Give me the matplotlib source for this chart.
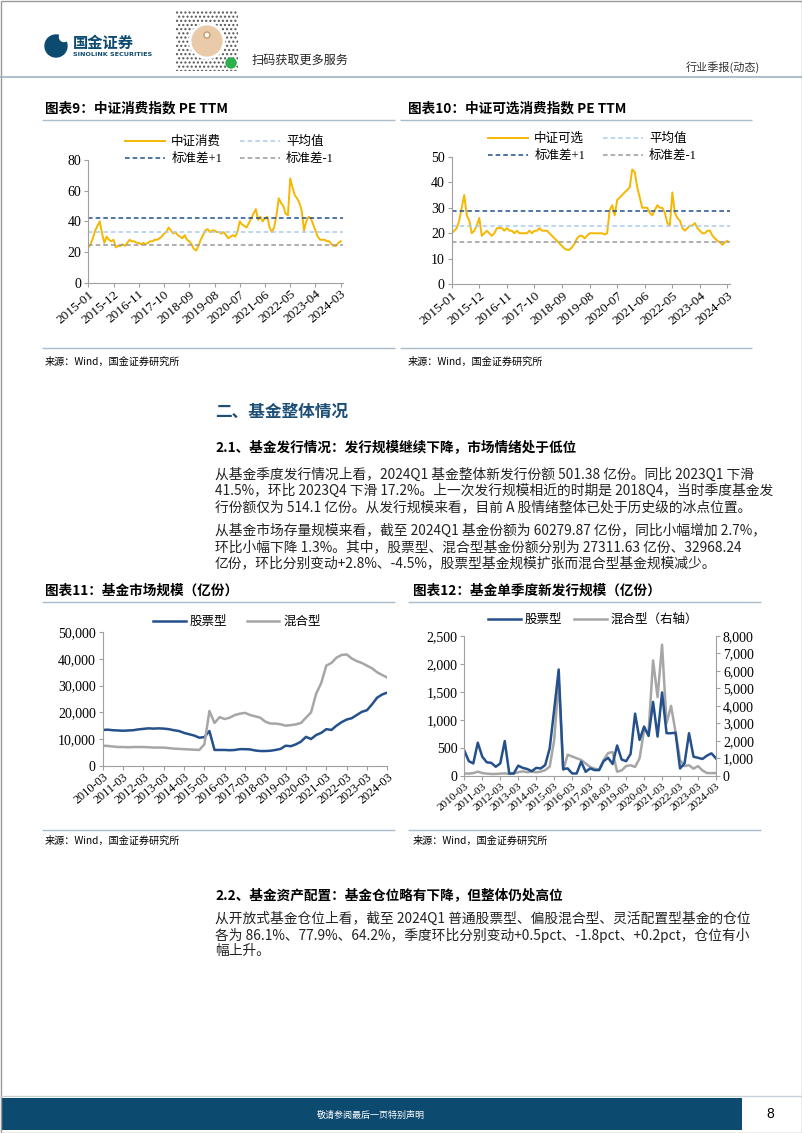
import matplotlib
matplotlib.use("Agg")
import matplotlib.pyplot as plt
import numpy as np
from matplotlib.patches import Rectangle, Circle
from matplotlib.ticker import FuncFormatter

plt.rcParams['font.family'] = ['Liberation Serif', 'Noto Sans CJK SC']
plt.rcParams['axes.unicode_minus'] = False
CJK = ['Noto Sans CJK SC', 'DejaVu Sans']

# ---- data: 中证消费 / 中证可选消费 PE TTM, monthly 2015-01 .. 2024-03
pe_labels = ['2015-01', '2015-12', '2016-11', '2017-10', '2018-09', '2019-08',
             '2020-07', '2021-06', '2022-05', '2023-04', '2024-03']
pe_consumer = [23, 25, 29, 34, 37, 40, 32, 26, 30, 28, 27, 28,
               23, 24, 24, 25, 24, 26, 28, 27, 27, 26, 26, 25,
               26, 25, 26, 27, 27, 28, 28, 29, 30, 32, 33, 36,
               34, 32, 33, 31, 30, 29, 31, 28, 27, 25, 22, 21,
               24, 28, 31, 34, 35, 33, 34, 34, 33, 33, 32, 33,
               31, 29, 30, 31, 30, 33, 40, 38, 37, 36, 39, 42,
               45, 48, 41, 43, 40, 42, 43, 36, 33, 36, 44, 55,
               52, 50, 45, 44, 68, 62, 57, 55, 52, 47, 34, 40,
               43, 42, 38, 34, 30, 28, 28, 28, 27, 27, 25, 24,
               24, 26, 27]
pe_consumer_bands = [33.3, 42.2, 24.6]   # 平均值, 标准差+1, 标准差-1
pe_discret = [20, 21, 22, 25, 30, 35, 27, 25, 20, 21, 23, 26,
              19, 20, 21, 20, 19, 20, 22, 22, 22, 21, 22, 21,
              21, 20, 21, 20, 20, 20, 20, 21, 20, 21, 21, 22,
              21, 21, 21, 20, 19, 18, 17, 16, 15, 14, 13.5, 13.5,
              14.5, 16, 18, 19, 19, 18, 19, 20, 20, 20, 20, 20,
              20, 19.5, 20, 29, 31, 27, 33, 34, 35, 36, 37, 38,
              45, 44, 38, 34, 30, 30, 30, 28, 27, 29, 31, 30,
              30, 28, 24, 23, 36, 28, 26, 25, 22, 21, 22, 23,
              23, 24, 22, 21, 20, 20, 21, 21, 19, 18, 17, 16.5,
              15.5, 16.5, 17]
pe_discret_bands = [23.0, 28.9, 16.7]

# ---- data: 基金市场规模 / 单季度新发行规模 (亿份), quarterly 2010-03 .. 2024-03
q_labels = ['%d-03' % y for y in range(2010, 2025)]
size_stock = [13400, 13500, 13300, 13200, 13100, 13200, 13300, 13600,
              13800, 14000, 13900, 14000, 13900, 13700, 13300, 13000,
              12300, 11800, 11300, 10500, 10700, 13000, 5900, 5900,
              5900, 5800, 5900, 6200, 6200, 6100, 5700, 5500,
              5500, 5600, 5900, 6300, 7500, 7300, 8000, 9000,
              10800, 10000, 11500, 12300, 13700, 13400, 15000, 16300,
              17300, 17800, 19000, 20200, 20800, 23000, 25500, 26700,
              27400]
size_mixed = [7500, 7400, 7200, 7000, 7000, 6900, 7000, 7000,
              7000, 6900, 6800, 6800, 6800, 6600, 6400, 6300,
              6200, 6100, 6000, 5900, 8000, 20500, 16000, 18200,
              17500, 18000, 19000, 19500, 19800, 19000, 18500, 18000,
              16500, 15800, 15800, 15500, 15000, 15200, 15500, 16000,
              18000, 20000, 27000, 31000, 37500, 38500, 40500, 41500,
              41700, 40200, 39200, 38500, 37500, 36500, 35000, 34000,
              33000]
new_stock = [450, 260, 220, 590, 340, 240, 230, 160, 220, 620, 40, 40,
             180, 140, 120, 80, 140, 130, 190, 490, 1180, 1900, 120, 130,
             40, 40, 250, 70, 130, 100, 100, 260, 320, 210, 540, 290,
             260, 390, 1110, 640, 880, 710, 1320, 700, 1490, 760, 760, 770,
             130, 220, 760, 340, 320, 300, 360, 400, 310]
new_mixed = [130, 120, 150, 230, 150, 120, 100, 100, 120, 130, 100, 120,
             200, 250, 200, 230, 200, 230, 320, 520, 2040, 5480, 320, 1200,
             1100, 1000, 900, 700, 500, 400, 350, 900, 1300, 1350, 230, 300,
             550, 600, 500, 1000, 2600, 2500, 6600, 4500, 7500, 3000, 4000, 2500,
             900, 550, 600, 400, 550, 300, 150, 150, 150]

W, H = 802, 1133
GOLD = '#f5b700'
BLUE = '#24508c'
GRAY = '#a6a6a6'
NAVY = '#0c4a70'
RULE = '#a9bccb'

fig = plt.figure(figsize=(W / 100, H / 100), dpi=100)
bg = fig.add_axes([0, 0, 1, 1])
bg.set_xlim(0, W)
bg.set_ylim(H, 0)
bg.axis('off')


def txt(x, y, s, size=9, **kw):
    kw.setdefault('va', 'center')
    kw.setdefault('family', CJK)
    bg.text(x, y, s, fontsize=size, **kw)


def rule(x0, x1, y, color=RULE, lw=1.0):
    bg.plot([x0, x1], [y, y], color=color, lw=lw, solid_capstyle='butt')


def px_axes(x0, y0, x1, y1):
    return fig.add_axes([x0 / W, 1 - y1 / H, (x1 - x0) / W, (y1 - y0) / H])


def style(ax, ysize=9.5, xsize=9.5, rot=40):
    for s in ['top', 'right']:
        ax.spines[s].set_visible(False)
    for s in ['left', 'bottom', 'right']:
        ax.spines[s].set_color('#a0a0a0')
        ax.spines[s].set_linewidth(0.8)
    ax.tick_params(direction='out', length=3, width=0.8, color='#a0a0a0')
    ax.tick_params(axis='y', labelsize=ysize, pad=2)
    ax.tick_params(axis='x', labelsize=xsize, pad=1)
    for lab in ax.get_xticklabels():
        lab.set_rotation(rot)
        lab.set_ha('right')
        lab.set_rotation_mode('anchor')


# ---- page header
bg.add_patch(Circle((56, 46), 11, color=NAVY, zorder=3))
bg.add_patch(Circle((64, 37), 4.5, color='white', zorder=4))
txt(73, 43, '国金证券', size=11, weight='bold', color=NAVY)
txt(73, 55, 'SINOLINK SECURITIES', size=4.6, weight='bold', color=NAVY,
    family=['DejaVu Sans'])
bg.add_patch(Rectangle((176, 11), 62, 60, facecolor='white', edgecolor='#555555',
                       hatch='....', lw=0, zorder=2))
bg.add_patch(Circle((207, 41), 17, facecolor='#e9cba9', edgecolor='white', lw=2, zorder=3))
bg.add_patch(Circle((207, 35), 3, facecolor='white', edgecolor='#c79a6a', lw=1, zorder=4))
bg.add_patch(Circle((231, 63), 5, color='#2bb24c', zorder=4))
txt(252, 60, '扫码获取更多服务', size=8.7, color='#222222')
txt(760, 67, '行业季报(动态)', size=8, color='#333333', ha='right')
rule(0, W, 76.5, color='#9fb3c2', lw=1.2)

# ---- chart 9 / 10 titles and rules
TITLE = 9.8
SRC = 7.3
txt(45, 108, '图表9：中证消费指数 PE TTM', size=TITLE, weight='bold')
txt(408, 108, '图表10：中证可选消费指数 PE TTM', size=TITLE, weight='bold')
rule(42, 395, 120)
rule(400, 752, 120)
rule(42, 395, 348)
rule(400, 752, 348)
txt(45, 362, '来源：Wind，国金证券研究所', size=SRC)
txt(408, 362, '来源：Wind，国金证券研究所', size=SRC)


def pe_chart(box, series, bands, name, ymax, step, leg_xy, colsp):
    ax = px_axes(*box)
    x = np.arange(len(series))
    h1, = ax.plot(x, series, color=GOLD, lw=1.4, label=name)
    h2 = ax.axhline(bands[0], color='#a9cdea', lw=1.1, ls=(0, (3, 2)), label='平均值')
    h3 = ax.axhline(bands[1], color='#1f4e8c', lw=1.1, ls=(0, (3, 2)), label='标准差+1')
    h4 = ax.axhline(bands[2], color='#9a9a9a', lw=1.1, ls=(0, (3, 2)), label='标准差-1')
    ax.set_xlim(0, 111)
    ax.set_ylim(0, ymax)
    ax.set_yticks(np.arange(0, ymax + 1, step))
    ax.set_xticks(np.arange(0, 111, 11))
    ax.set_xticklabels(pe_labels)
    style(ax, ysize=10, xsize=9.5)
    ax.legend([h1, h3, h2, h4], [name, '标准差+1', '平均值', '标准差-1'], ncol=2,
              loc='upper left', bbox_to_anchor=(leg_xy[0] / W, 1 - leg_xy[1] / H),
              bbox_transform=fig.transFigure, frameon=False, fontsize=9,
              handlelength=3.2, handletextpad=0.5, columnspacing=colsp,
              labelspacing=0.4, borderpad=0, borderaxespad=0)
    return ax


pe_chart((88.3, 160, 343, 282.7), pe_consumer, pe_consumer_bands, '中证消费', 80, 20,
         (125, 136), 1.4)
pe_chart((451.7, 156.7, 730, 284.3), pe_discret, pe_discret_bands, '中证可选', 50, 10,
         (488, 133), 1.4)

# ---- section text
BODY = 9.9
txt(215, 412, '二、基金整体情况', size=12, weight='bold', color='#1d4f76')
txt(215, 448, '2.1、基金发行情况：发行规模继续下降，市场情绪处于低位', size=9.8, weight='bold')
para1 = ['从基金季度发行情况上看，2024Q1 基金整体新发行份额 501.38 亿份。同比 2023Q1 下滑',
         '41.5%，环比 2023Q4 下滑 17.2%。上一次发行规模相近的时期是 2018Q4，当时季度基金发',
         '行份额仅为 514.1 亿份。从发行规模来看，目前 A 股情绪整体已处于历史级的冰点位置。']
para2 = ['从基金市场存量规模来看，截至 2024Q1 基金份额为 60279.87 亿份，同比小幅增加 2.7%，',
         '环比小幅下降 1.3%。其中，股票型、混合型基金份额分别为 27311.63 亿份、32968.24',
         '亿份，环比分别变动+2.8%、-4.5%，股票型基金规模扩张而混合型基金规模减少。']
for i, line in enumerate(para1):
    txt(215, 474.5 + 16.2 * i, line, size=BODY, color='#222222')
for i, line in enumerate(para2):
    txt(215, 531 + 16.3 * i, line, size=BODY, color='#222222')

# ---- chart 11 / 12
txt(45, 591, '图表11：基金市场规模（亿份）', size=TITLE, weight='bold')
txt(413, 591, '图表12：基金单季度新发行规模（亿份）', size=TITLE, weight='bold')
rule(42, 395, 602)
rule(408, 761, 602)
rule(42, 395, 830)
rule(408, 761, 830)
txt(45, 841, '来源：Wind，国金证券研究所', size=SRC)
txt(413, 841, '来源：Wind，国金证券研究所', size=SRC)

qx = np.arange(len(size_stock))
ax11 = px_axes(102.7, 632.3, 387.3, 765.7)
a1, = ax11.plot(qx, size_stock, color=BLUE, lw=1.8)
a2, = ax11.plot(qx, size_mixed, color=GRAY, lw=1.8)
ax11.set_xlim(0, 56)
ax11.set_ylim(0, 50000)
ax11.set_yticks(np.arange(0, 50001, 10000))
ax11.yaxis.set_major_formatter(FuncFormatter(lambda v, p: '{:,.0f}'.format(v)))
ax11.set_xticks(np.arange(0, 57, 4))
ax11.set_xticklabels(q_labels)
style(ax11, ysize=10, xsize=8.8)
ax11.legend([a1, a2], ['股票型', '混合型'], ncol=2, loc='upper left',
            bbox_to_anchor=(153 / W, 1 - 616 / H), bbox_transform=fig.transFigure,
            frameon=False, fontsize=9, handlelength=2.6, handletextpad=0.3,
            columnspacing=1.6, borderpad=0, borderaxespad=0)

ax12 = px_axes(464.3, 636, 716, 775.7)
ax12r = ax12.twinx()
b2, = ax12r.plot(qx, new_mixed, color=GRAY, lw=1.8)
b1, = ax12.plot(qx, new_stock, color=BLUE, lw=1.8)
ax12.set_zorder(ax12r.get_zorder() + 1)
ax12.patch.set_visible(False)
ax12.set_xlim(0, 56)
ax12.set_ylim(0, 2500)
ax12r.set_ylim(0, 8000)
ax12.set_yticks(np.arange(0, 2501, 500))
ax12r.set_yticks(np.arange(0, 8001, 1000))
fmt = FuncFormatter(lambda v, p: '{:,.0f}'.format(v))
ax12.yaxis.set_major_formatter(fmt)
ax12r.yaxis.set_major_formatter(fmt)
ax12.set_xticks(np.arange(0, 57, 4))
ax12.set_xticklabels(q_labels)
style(ax12, ysize=10, xsize=8.2)
ax12r.spines['top'].set_visible(False)
ax12r.spines['left'].set_visible(False)
ax12r.spines['bottom'].set_visible(False)
ax12r.spines['right'].set_color('#a0a0a0')
ax12r.spines['right'].set_linewidth(0.8)
ax12r.tick_params(direction='out', length=3, width=0.8, color='#a0a0a0', labelsize=10, pad=2)
ax12.legend([b1, b2], ['股票型', '混合型（右轴）'], ncol=2, loc='upper left',
            bbox_to_anchor=(488 / W, 1 - 614 / H), bbox_transform=fig.transFigure,
            frameon=False, fontsize=9, handlelength=2.6, handletextpad=0.3,
            columnspacing=1.0, borderpad=0, borderaxespad=0)

# ---- 2.2
txt(215, 895.5, '2.2、基金资产配置：基金仓位略有下降，但整体仍处高位', size=9.8, weight='bold')
para3 = ['从开放式基金仓位上看，截至 2024Q1 普通股票型、偏股混合型、灵活配置型基金的仓位',
         '各为 86.1%、77.9%、64.2%，季度环比分别变动+0.5pct、-1.8pct、+0.2pct，仓位有小',
         '幅上升。']
for i, line in enumerate(para3):
    txt(215, 919 + 16 * i, line, size=BODY, color='#222222')

# ---- footer
rule(0, W, 1096, color='#c5d1da', lw=1)
bg.add_patch(Rectangle((1, 1097.5), 741, 32.5, color=NAVY, lw=0))
txt(371, 1115, '敬请参阅最后一页特别声明', size=6.5, color='white', ha='center')
txt(770, 1114, '8', size=10, ha='center', family=['Liberation Sans'])
bg.add_patch(Rectangle((0.5, 0.5), W - 1, H - 1, fill=False, edgecolor='#9a9a9a', lw=1))

fig.savefig('out.png', dpi=100)
